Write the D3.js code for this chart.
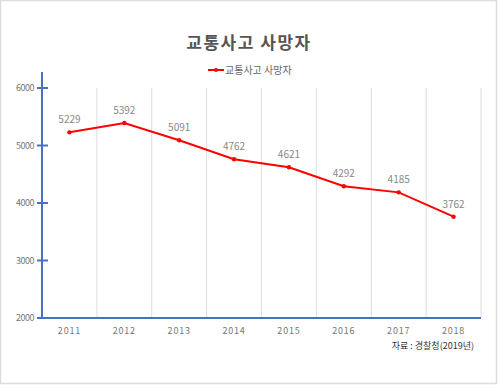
<!DOCTYPE html>
<html>
<head>
<meta charset="utf-8">
<script src="https://cdn.jsdelivr.net/npm/d3@7"></script>
<style>
  body { margin: 0; background: #fff; }
  svg { display: block; font-family: "Noto Sans CJK KR", "Noto Sans", sans-serif; }
</style>
</head>
<body>
<svg width="498" height="385"></svg>
<script>
  // data
  const years = ['2011', '2012', '2013', '2014', '2015', '2016', '2017', '2018'];
  const deaths = [5229, 5392, 5091, 4762, 4621, 4292, 4185, 3762];
  const yTicks = [2000, 3000, 4000, 5000, 6000];

  const svg = d3.select('svg');
  const width = +svg.attr('width');
  const height = +svg.attr('height');

  // outer border
  svg.append('rect')
    .attr('x', 0.5).attr('y', 0.5)
    .attr('width', width - 2).attr('height', height - 2)
    .attr('fill', '#fff')
    .attr('stroke', '#dcdcdc')
    .attr('stroke-width', 1.5);

  const margin = { left: 42, right: 17, top: 88, bottom: 67 };
  const innerW = width - margin.left - margin.right;
  const plotBottom = height - margin.bottom;

  const x = d3.scaleBand().domain(years).range([margin.left, margin.left + innerW]);
  const y = d3.scaleLinear().domain([2000, 6000]).range([plotBottom, margin.top]);

  // title
  svg.append('text')
    .attr('x', 249).attr('y', 49)
    .attr('text-anchor', 'middle')
    .attr('font-size', 17)
    .attr('font-weight', 'bold')
    .attr('letter-spacing', '1.5px')
    .attr('fill', '#555')
    .text('교통사고 사망자');

  // legend
  const legendG = svg.append('g').attr('transform', 'translate(208,70)');
  legendG.append('line')
    .attr('x1', 0).attr('x2', 16)
    .attr('stroke', 'red').attr('stroke-width', 2);
  legendG.append('circle').attr('cx', 8).attr('r', 2).attr('fill', 'red');
  legendG.append('text')
    .attr('x', 17).attr('dy', '0.35em')
    .attr('font-size', 10)
    .attr('fill', '#666')
    .text('교통사고 사망자');

  // vertical gridlines at band edges
  svg.append('g').selectAll('line')
    .data(years.slice(1).concat(['end']))
    .enter().append('line')
    .attr('x1', (d, i) => x(years[0]) + (i + 1) * x.bandwidth())
    .attr('x2', (d, i) => x(years[0]) + (i + 1) * x.bandwidth())
    .attr('y1', y(6000))
    .attr('y2', plotBottom)
    .attr('stroke', '#dddddd')
    .attr('stroke-width', 1);

  // y axis
  const axisColor = '#4472c4';
  const yAxisG = svg.append('g').attr('transform', `translate(${margin.left},0)`);
  yAxisG.append('line')
    .attr('y1', 72).attr('y2', plotBottom)
    .attr('stroke', axisColor).attr('stroke-width', 2);
  yAxisG.selectAll('.tick')
    .data(yTicks)
    .enter().append('line')
    .attr('x1', -5).attr('x2', 6)
    .attr('y1', d => y(d)).attr('y2', d => y(d))
    .attr('stroke', axisColor).attr('stroke-width', 2);
  yAxisG.selectAll('text')
    .data(yTicks)
    .enter().append('text')
    .attr('x', -8)
    .attr('y', d => y(d))
    .attr('dy', '0.35em')
    .attr('text-anchor', 'end')
    .attr('font-size', 9)
    .attr('letter-spacing', '-0.5px')
    .attr('fill', '#777')
    .text(d => d);

  // x axis
  svg.append('line')
    .attr('x1', margin.left).attr('x2', margin.left + innerW)
    .attr('y1', plotBottom).attr('y2', plotBottom)
    .attr('stroke', axisColor).attr('stroke-width', 2);
  svg.append('g').selectAll('text')
    .data(years)
    .enter().append('text')
    .attr('x', d => x(d) + x.bandwidth() / 2)
    .attr('y', plotBottom + 16)
    .attr('text-anchor', 'middle')
    .attr('font-size', 9)
    .attr('letter-spacing', '0.8px')
    .attr('fill', '#777')
    .text(d => d);

  // line
  const line = d3.line()
    .x((d, i) => x(years[i]) + x.bandwidth() / 2)
    .y(d => y(d));
  svg.append('path')
    .datum(deaths)
    .attr('d', line)
    .attr('fill', 'none')
    .attr('stroke', '#ff0000')
    .attr('stroke-width', 2);

  svg.append('g').selectAll('circle')
    .data(deaths)
    .enter().append('circle')
    .attr('cx', (d, i) => x(years[i]) + x.bandwidth() / 2)
    .attr('cy', d => y(d))
    .attr('r', 2.2)
    .attr('fill', '#ff0000');

  // data labels
  svg.append('g').selectAll('text')
    .data(deaths)
    .enter().append('text')
    .attr('x', (d, i) => x(years[i]) + x.bandwidth() / 2)
    .attr('y', d => y(d) - 9)
    .attr('text-anchor', 'middle')
    .attr('font-size', 10)
    .attr('fill', '#888')
    .text(d => d);

  // source
  svg.append('text')
    .attr('x', 474).attr('y', 349)
    .attr('text-anchor', 'end')
    .attr('font-size', 9)
    .attr('fill', '#333')
    .text('자료 : 경찰청(2019년)');
</script>
</body>
</html>
